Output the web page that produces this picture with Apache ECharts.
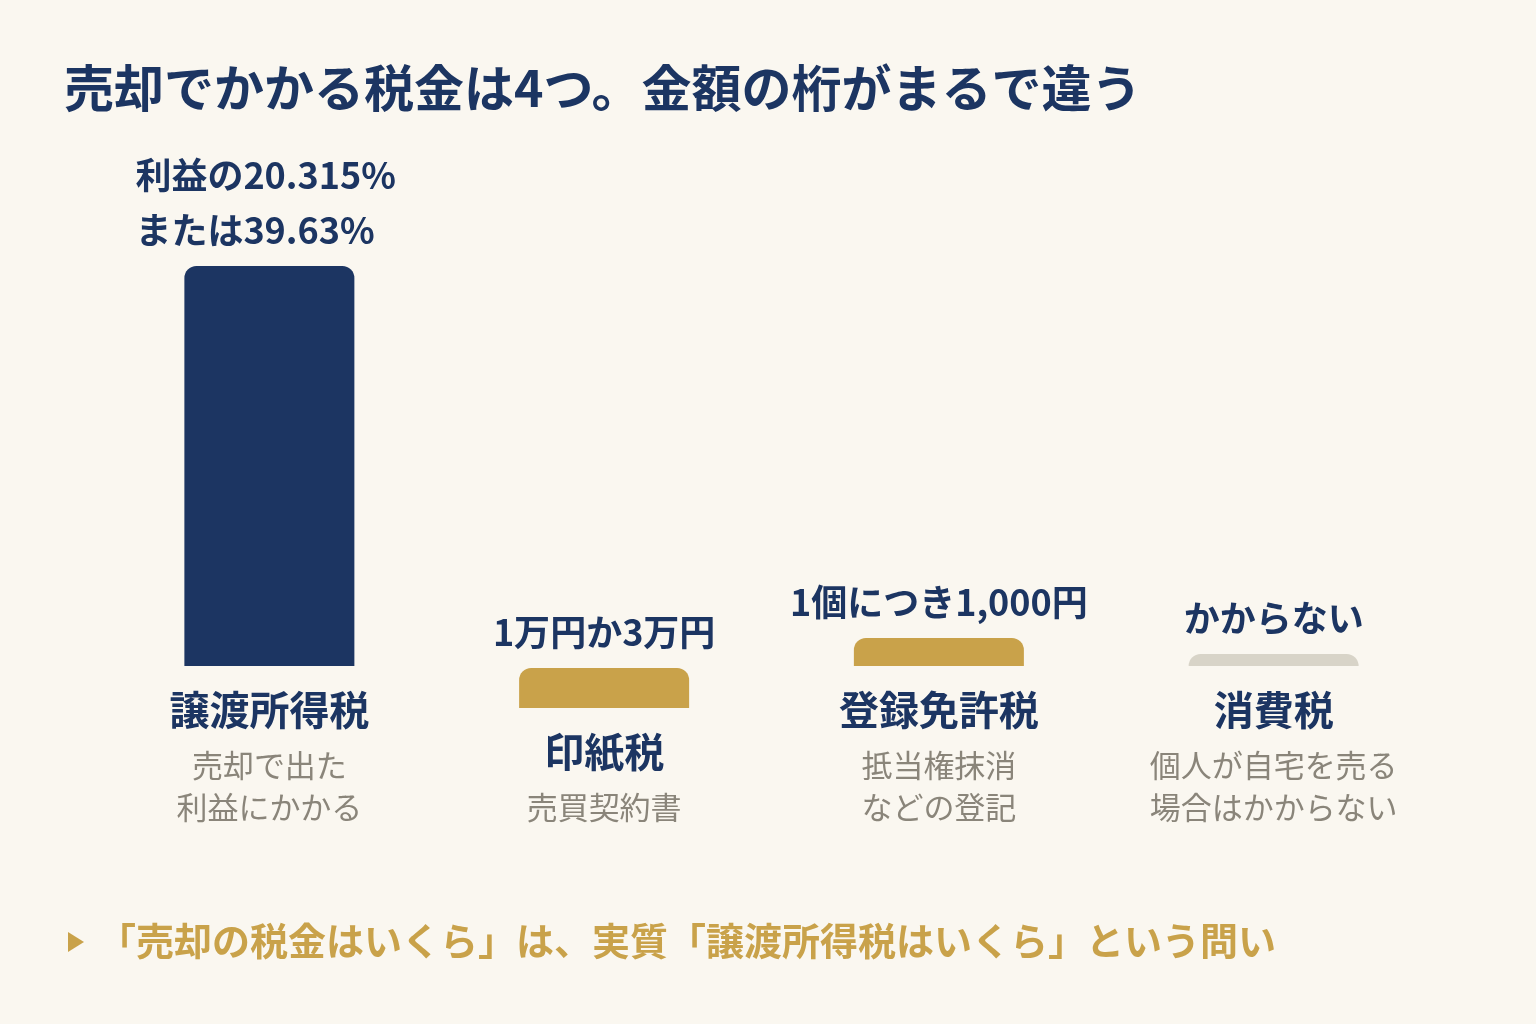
<!DOCTYPE html>
<html>
<head>
<meta charset="utf-8">
<script src="https://cdn.jsdelivr.net/npm/echarts@6/dist/echarts.min.js"></script>
<style>
html, body { margin: 0; padding: 0; background: #FAF7F0; }
#chart { width: 1536px; height: 1024px; }
</style>
</head>
<body>
<div id="chart"></div>
<script>
var categories = ['譲渡所得税', '印紙税', '登録免許税', '消費税'];
var notes = [['売却で出た', '利益にかかる'], ['売買契約書'], ['抵当権抹消', 'などの登記'], ['個人が自宅を売る', '場合はかからない']];
var amounts = ['利益の20.315%\nまたは39.63%', '1万円か3万円', '1個につき1,000円', 'かからない'];
// illustrative heights, not to scale
var barValues = [100, 10, 7, 3];
// columns with a one-line note sit lower (bottom aligned)
var dropValues = [0, -10.5, 0, 0];
var barColors = ['#1C3562', '#C9A24A', '#C9A24A', '#D8D4C8'];

var FONT = '"Noto Sans CJK JP", "Noto Sans CJK SC", sans-serif';
var NAVY = '#1C3562';
var GOLD = '#C9A24A';

var mychart = echarts.init(document.getElementById('chart'));

var option = {
	backgroundColor: '#FAF7F0',
	textStyle: { fontFamily: FONT },
	title: [{
		text: '売却でかかる税金は4つ。金額の桁がまるで違う',
		left: 64,
		top: 58,
		padding: 0,
		textStyle: { fontFamily: FONT, fontSize: 50, fontWeight: 'bold', color: NAVY, lineHeight: 60 }
	}, {
		text: '「売却の税金はいくら」は、実質「譲渡所得税はいくら」という問い',
		left: 98,
		top: 916,
		padding: 0,
		textStyle: { fontFamily: FONT, fontSize: 38, fontWeight: 'bold', color: GOLD, lineHeight: 50 }
	}],
	graphic: [{
		type: 'polygon',
		shape: { points: [[68, 932], [84, 942], [68, 952]] },
		style: { fill: GOLD }
	}],
	grid: { left: 102, right: 95, top: 266, bottom: 310, outerBoundsMode: 'none' },
	xAxis: {
		type: 'category',
		data: categories,
		axisLine: { show: false },
		axisTick: { show: false },
		splitLine: { show: false },
		axisLabel: {
			interval: 0,
			// axis sits at grid bottom (-12); pull labels up to the zero line
			margin: -38,
			formatter: function(value, index) {
				var s = '';
				if(notes[index].length < 2) s += '{sp| }\n';
				s += '{name|' + value + '}';
				for(var i = 0; i < notes[index].length; i++) s += '\n{note|' + notes[index][i] + '}';
				return s;
			},
			rich: {
				sp: { lineHeight: 42, fontSize: 10 },
				name: { fontFamily: FONT, fontSize: 40, fontWeight: 'bold', color: NAVY, lineHeight: 68 },
				note: { fontFamily: FONT, fontSize: 31, color: '#8A857A', lineHeight: 42 }
			}
		}
	},
	yAxis: {
		type: 'value',
		min: -12,
		max: 100,
		show: false,
		splitLine: { show: false }
	},
	series: [{
		name: 'drop',
		type: 'bar',
		stack: 'tax',
		stackStrategy: 'all',
		barWidth: 170,
		silent: true,
		itemStyle: { color: 'rgba(0,0,0,0)' },
		data: dropValues
	}, {
		name: 'tax',
		type: 'bar',
		stack: 'tax',
		stackStrategy: 'all',
		barWidth: 170,
		itemStyle: { borderRadius: [12, 12, 0, 0] },
		label: {
			show: true,
			position: 'top',
			distance: 8,
			fontFamily: FONT,
			fontSize: 36,
			fontWeight: 'bold',
			color: NAVY,
			lineHeight: 55,
			formatter: function(p) { return amounts[p.dataIndex]; }
		},
		data: barValues.map(function(v, i) {
			var item = { value: v, itemStyle: { color: barColors[i] } };
			if(i == 0) item.label = { align: 'left', offset: [-134, 0] };
			return item;
		})
	}]
};
mychart.setOption(option);
</script>
</body>
</html>
